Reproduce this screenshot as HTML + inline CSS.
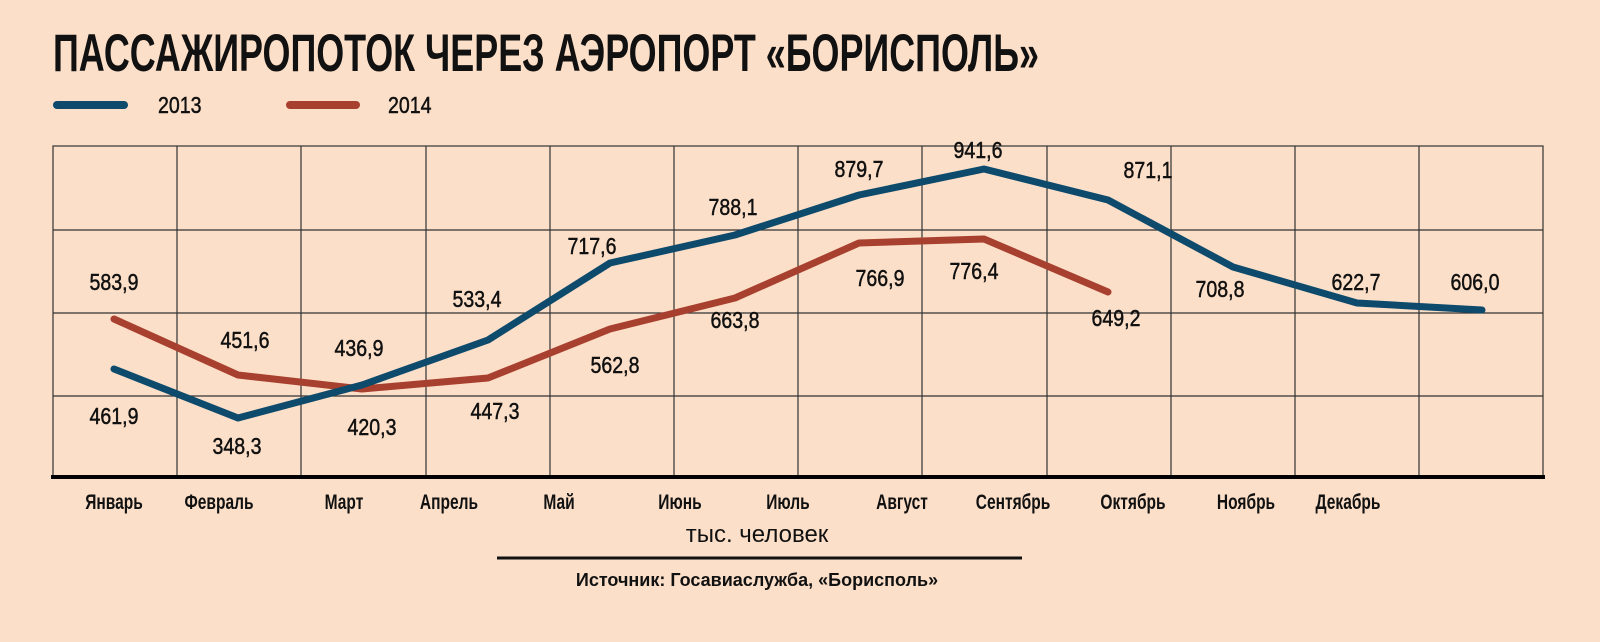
<!DOCTYPE html>
<html><head><meta charset="utf-8"><style>
html,body{margin:0;padding:0;background:#fcdfc8;}
svg{display:block}
.n{font-family:"Liberation Sans Narrow","Liberation Sans",sans-serif;fill:#111;}
</style></head><body>
<svg width="1600" height="642" viewBox="0 0 1600 642" xmlns="http://www.w3.org/2000/svg">
<rect width="1600" height="642" fill="#fcdfc8"/>
<text class="n" x="53" y="71" font-size="53" font-weight="bold" textLength="986" lengthAdjust="spacingAndGlyphs">ПАССАЖИРОПОТОК ЧЕРЕЗ АЭРОПОРТ «БОРИСПОЛЬ»</text>
<line x1="57" y1="105" x2="124" y2="105" stroke="#0d4a6b" stroke-width="8" stroke-linecap="round"/>
<text class="n" transform="translate(158,113) scale(0.85,1)" font-size="23" stroke="#111" stroke-width="0.5">2013</text>
<line x1="290" y1="105" x2="356" y2="105" stroke="#a8402f" stroke-width="8" stroke-linecap="round"/>
<text class="n" transform="translate(388,113) scale(0.85,1)" font-size="23" stroke="#111" stroke-width="0.5">2014</text>
<g stroke="#333" stroke-width="1.2" fill="none">
<rect x="53" y="146" width="1490" height="331"/>
<line x1="53" y1="230" x2="1543" y2="230"/><line x1="53" y1="313" x2="1543" y2="313"/><line x1="53" y1="396" x2="1543" y2="396"/>
<line x1="177" y1="146" x2="177" y2="477"/><line x1="301" y1="146" x2="301" y2="477"/><line x1="426" y1="146" x2="426" y2="477"/><line x1="550" y1="146" x2="550" y2="477"/><line x1="674" y1="146" x2="674" y2="477"/><line x1="798" y1="146" x2="798" y2="477"/><line x1="922" y1="146" x2="922" y2="477"/><line x1="1047" y1="146" x2="1047" y2="477"/><line x1="1171" y1="146" x2="1171" y2="477"/><line x1="1295" y1="146" x2="1295" y2="477"/><line x1="1419" y1="146" x2="1419" y2="477"/>
</g>
<line x1="51" y1="477" x2="1545" y2="477" stroke="#000" stroke-width="4"/>
<polyline fill="none" stroke="#a8402f" stroke-width="7" stroke-linecap="round" stroke-linejoin="round" points="114,319 238,375 362,389 488,378 610,329 735,298 859,243 984,239 1108,292"/>
<polyline fill="none" stroke="#0d4a6b" stroke-width="7" stroke-linecap="round" stroke-linejoin="round" points="114,369 238,418 362,385 488,340 610,263 735,235 859,195 984,169 1108,200 1233,267 1357,303 1482,310"/>
<g class="n" font-size="23" text-anchor="middle" stroke="#111" stroke-width="0.5">
<text transform="translate(114,290) scale(0.85,1)">583,9</text><text transform="translate(114,424) scale(0.85,1)">461,9</text>
<text transform="translate(245,348) scale(0.85,1)">451,6</text><text transform="translate(237,454) scale(0.85,1)">348,3</text>
<text transform="translate(359,356) scale(0.85,1)">436,9</text><text transform="translate(372,435) scale(0.85,1)">420,3</text>
<text transform="translate(477,307) scale(0.85,1)">533,4</text><text transform="translate(495,419) scale(0.85,1)">447,3</text>
<text transform="translate(592,254) scale(0.85,1)">717,6</text><text transform="translate(615,373) scale(0.85,1)">562,8</text>
<text transform="translate(733,215) scale(0.85,1)">788,1</text><text transform="translate(735,328) scale(0.85,1)">663,8</text>
<text transform="translate(859,177) scale(0.85,1)">879,7</text><text transform="translate(880,286) scale(0.85,1)">766,9</text>
<text transform="translate(978,158) scale(0.85,1)">941,6</text><text transform="translate(974,279) scale(0.85,1)">776,4</text>
<text transform="translate(1148,178) scale(0.85,1)">871,1</text><text transform="translate(1116,326) scale(0.85,1)">649,2</text>
<text transform="translate(1220,297) scale(0.85,1)">708,8</text><text transform="translate(1356,290) scale(0.85,1)">622,7</text><text transform="translate(1475,290) scale(0.85,1)">606,0</text>
</g>
<g class="n" font-size="21" font-weight="bold" text-anchor="middle">
<text transform="translate(114,509) scale(0.74,1)">Январь</text><text transform="translate(219,509) scale(0.74,1)">Февраль</text><text transform="translate(344,509) scale(0.74,1)">Март</text><text transform="translate(449,509) scale(0.74,1)">Апрель</text><text transform="translate(559,509) scale(0.74,1)">Май</text><text transform="translate(680,509) scale(0.74,1)">Июнь</text><text transform="translate(788,509) scale(0.74,1)">Июль</text><text transform="translate(902,509) scale(0.74,1)">Август</text><text transform="translate(1013,509) scale(0.74,1)">Сентябрь</text><text transform="translate(1133,509) scale(0.74,1)">Октябрь</text><text transform="translate(1246,509) scale(0.74,1)">Ноябрь</text><text transform="translate(1348,509) scale(0.74,1)">Декабрь</text>
</g>
<text x="757" y="542" font-family="Liberation Sans,sans-serif" font-size="24" text-anchor="middle" fill="#111">тыс. человек</text>
<line x1="497" y1="558" x2="1022" y2="558" stroke="#111" stroke-width="3"/>
<text x="757" y="586" font-family="Liberation Sans,sans-serif" font-size="18" font-weight="bold" text-anchor="middle" fill="#111">Источник: Госавиаслужба, «Борисполь»</text>
</svg>
</body></html>
